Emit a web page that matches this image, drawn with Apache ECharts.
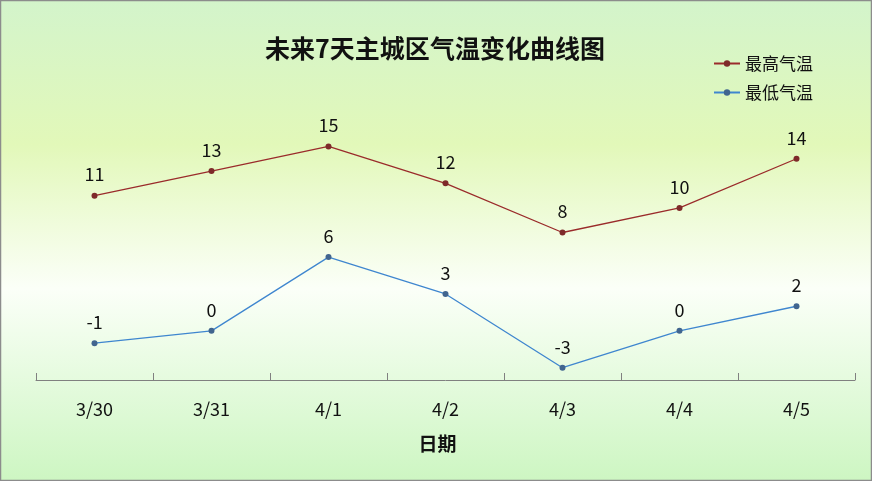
<!DOCTYPE html>
<html>
<head>
<meta charset="utf-8">
<script src="https://cdn.jsdelivr.net/npm/echarts@6/dist/echarts.min.js"></script>
<style>
html, body { margin: 0; padding: 0; }
#main { width: 872px; height: 481px; }
</style>
</head>
<body>
<div id="main"></div>
<script>
var dates = ['3/30', '3/31', '4/1', '4/2', '4/3', '4/4', '4/5'];
var highTemp = [11, 13, 15, 12, 8, 10, 14];
var lowTemp = [-1, 0, 6, 3, -3, 0, 2];

var cjk = '"Noto Sans CJK SC", sans-serif';

var chart = echarts.init(document.getElementById('main'));
chart.setOption({
    backgroundColor: new echarts.graphic.LinearGradient(0, 0, 0, 1, [
        { offset: 0, color: '#d3f4cb' },
        { offset: 0.3, color: '#e2f8b9' },
        { offset: 0.6, color: '#fbfff8' },
        { offset: 1, color: '#cdf6c2' }
    ]),
    graphic: [{
        type: 'rect',
        shape: { x: 0.5, y: 0.5, width: 871, height: 480 },
        style: { fill: 'none', stroke: '#8c8c8c', lineWidth: 1.5 },
        silent: true
    }],
    title: {
        text: '未来7天主城区气温变化曲线图',
        left: 430,
        textAlign: 'center',
        top: 31,
        textStyle: { fontFamily: cjk, fontSize: 25, fontWeight: 'bold', color: '#111' }
    },
    legend: {
        orient: 'vertical',
        left: 708,
        top: 50,
        itemGap: 12,
        itemWidth: 26,
        itemHeight: 8,
        textStyle: { fontFamily: cjk, fontSize: 17, color: '#111' },
        data: ['最高气温', '最低气温']
    },
    grid: { left: 36, right: 17, top: 85, bottom: 101 },
    xAxis: {
        type: 'category',
        data: dates,
        boundaryGap: true,
        name: '日期',
        nameLocation: 'middle',
        nameGap: 54,
        nameTextStyle: { fontFamily: cjk, fontSize: 19, fontWeight: 'bold', color: '#111', padding: [0, 16, 0, 0] },
        axisLine: { show: true, onZero: false, lineStyle: { color: '#808080', width: 1 } },
        axisTick: { show: true, inside: false, alignWithLabel: false, interval: 0, length: -7, lineStyle: { color: '#808080', width: 1 } },
        axisLabel: { fontFamily: cjk, fontSize: 18, color: '#111', margin: 20 }
    },
    yAxis: {
        type: 'value',
        min: -4,
        max: 20,
        axisLine: { show: false },
        axisTick: { show: false },
        axisLabel: { show: false },
        splitLine: { show: false }
    },
    series: [
        {
            name: '最高气温',
            type: 'line',
            data: highTemp,
            symbol: 'circle',
            symbolSize: 6,
            lineStyle: { color: '#9a2b2b', width: 1.3 },
            itemStyle: { color: '#7e2a2a' },
            label: { show: true, position: 'top', distance: 9, fontFamily: cjk, fontSize: 18, color: '#111' }
        },
        {
            name: '最低气温',
            type: 'line',
            data: lowTemp,
            symbol: 'circle',
            symbolSize: 6,
            lineStyle: { color: '#3f86cf', width: 1.3 },
            itemStyle: { color: '#41658f' },
            label: { show: true, position: 'top', distance: 9, fontFamily: cjk, fontSize: 18, color: '#111' }
        }
    ]
});
</script>
</body>
</html>
